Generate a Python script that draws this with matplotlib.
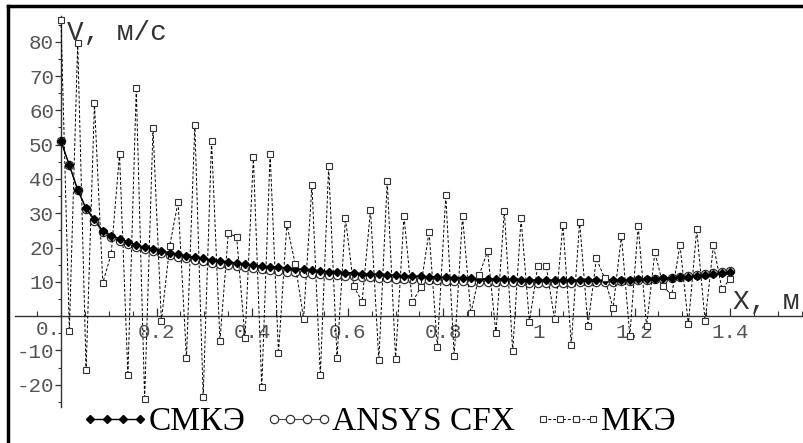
import numpy as np
import matplotlib
matplotlib.use("Agg")
import matplotlib.pyplot as plt
from matplotlib.lines import Line2D
from matplotlib.legend_handler import HandlerLine2D
from matplotlib.ticker import MultipleLocator, FixedLocator

# x grid: 81 nodes from 0 to 1.4 m
x = np.linspace(0, 1.4, 81)

smke = [51.0, 44.0, 36.8, 31.4, 28.2, 24.8, 23.5, 22.6, 21.6, 20.8,
        20.1, 19.5, 19.0, 18.5, 18.0, 17.6, 17.2, 16.8, 16.4, 16.1,
        15.8, 15.5, 15.2, 14.9, 14.6, 14.4, 14.2, 14.0, 13.8, 13.6,
        13.4, 13.2, 13.0, 12.9, 12.7, 12.6, 12.4, 12.3, 12.2, 12.1,
        11.9, 11.8, 11.7, 11.6, 11.5, 11.4, 11.3, 11.2, 11.1, 11.0,
        10.9, 10.9, 10.8, 10.7, 10.7, 10.6, 10.6, 10.5, 10.5, 10.5,
        10.4, 10.4, 10.4, 10.4, 10.4, 10.4, 10.5, 10.5, 10.6, 10.7,
        10.8, 10.9, 11.0, 11.1, 11.3, 11.5, 11.7, 11.9, 12.2, 12.5,
        12.8]

ansys = [51.0, 44.0, 36.8, 31.2, 27.8, 24.4, 23.0, 22.0, 21.0, 20.2,
         19.5, 18.9, 18.3, 17.8, 17.3, 16.8, 16.4, 16.0, 15.6, 15.3,
         15.0, 14.6, 14.3, 14.0, 13.7, 13.5, 13.2, 13.0, 12.8, 12.6,
         12.4, 12.2, 12.0, 11.9, 11.7, 11.6, 11.4, 11.3, 11.1, 11.0,
         10.9, 10.8, 10.7, 10.6, 10.5, 10.4, 10.3, 10.2, 10.1, 10.0,
         10.0, 9.9, 9.9, 9.8, 9.8, 9.8, 9.7, 9.7, 9.7, 9.7,
         9.7, 9.7, 9.8, 9.8, 9.9, 9.9, 10.0, 10.1, 10.2, 10.4,
         10.5, 10.7, 10.9, 11.1, 11.3, 11.6, 11.9, 12.2, 12.5, 12.8,
         13.1]

mke = [86.3, -4.3, 79.6, -15.7, 62.2, 9.7, 18.1, 47.2, -17.2, 66.4,
       -24.3, 54.7, -1.4, 20.5, 33.3, -12.3, 55.7, -23.5, 51.2, -7.2,
       24.1, 23.1, -6.5, 46.4, -20.7, 47.4, -10.7, 26.8, 15.2, -0.7,
       38.2, -17.2, 43.7, -12.2, 28.5, 8.7, 4.2, 31.0, -12.9, 39.5,
       -12.5, 29.2, 4.0, 8.4, 24.6, -8.9, 35.3, -11.7, 29.2, 0.8,
       12.0, 19.0, -5.0, 30.7, -10.2, 28.5, -1.7, 14.7, 14.7, -0.9,
       26.7, -8.3, 27.5, -2.8, 16.8, 11.0, 2.4, 23.4, -5.8, 26.3,
       -2.9, 18.6, 8.7, 6.1, 20.7, -2.4, 25.3, -1.5, 20.7, 8.0,
       10.7]

x_major = [0.2, 0.4, 0.6, 0.8, 1.0, 1.2, 1.4]
x_labels = ["0.2", "0.4", "0.6", "0.8", "1", "1.2", "1.4"]
y_major = [-20, -10, 10, 20, 30, 40, 50, 60, 70, 80]
y_labels = ["-20", "-10", "10", "20", "30", "40", "50", "60", "70", "80"]

W, H = 804, 443
fig = plt.figure(figsize=(W / 100, H / 100), dpi=100)
ax = fig.add_axes([15 / W, 1 - 407 / H, 1 - 15 / W, (407 - 16) / H])
ax.set_xlim(-0.0962, 1.5544)
ax.set_ylim(-26.5, 87.5)

mono = "Liberation Mono"
serif = "Liberation Serif"

l_ansys, = ax.plot(x, ansys, color="#444444", lw=0.8, marker="o", ms=6,
                   mfc="white", mec="#333333", mew=0.9, label="ANSYS CFX",
                   zorder=3)
l_smke, = ax.plot(x, smke, color="black", lw=1.0, marker="D", ms=3.6,
                  mfc="black", mec="black", label="СМКЭ", zorder=4)
l_mke, = ax.plot(x, mke, color="black", lw=0.7, ls=(0, (3, 2)), marker="s",
                 ms=4.2, mfc="white", mec="#333333", mew=0.8, label="МКЭ",
                 zorder=5, clip_on=False)

for s in ["top", "right"]:
    ax.spines[s].set_visible(False)
ax.spines["left"].set_position(("data", 0))
ax.spines["bottom"].set_position(("data", 0))
for s in ["left", "bottom"]:
    ax.spines[s].set_color("#333333")
    ax.spines[s].set_linewidth(1.0)

ax.xaxis.set_major_locator(FixedLocator(x_major))
ax.set_xticklabels(x_labels)
ax.xaxis.set_minor_locator(MultipleLocator(0.05))
ax.yaxis.set_major_locator(FixedLocator(y_major))
ax.set_yticklabels(y_labels)
ax.yaxis.set_minor_locator(MultipleLocator(5))

ax.tick_params(axis="x", which="major", direction="in", length=6, width=0.9,
               color="#333333", pad=5, labelsize=15, labelcolor="#555555")
ax.tick_params(axis="x", which="minor", direction="in", length=3.5, width=0.8,
               color="#333333")
ax.tick_params(axis="y", which="major", direction="out", length=4, width=0.9,
               color="#333333", pad=1, labelsize=15, labelcolor="#555555")
ax.tick_params(axis="y", which="minor", direction="out", length=2.5, width=0.8,
               color="#333333")
for lab in ax.get_xticklabels() + ax.get_yticklabels():
    lab.set_family(mono)

ax.text(0.0, -4.0, "0.", ha="right", va="center", fontsize=15,
        color="#555555", family=mono)
ax.text(0.012, 82.5, "V, м/с", ha="left", va="center", fontsize=20,
        color="#333333", family=mono)
ax.text(1.545, 4.0, "X, м", ha="right", va="center", fontsize=20,
        color="#333333", family=mono)

hmap = {h: HandlerLine2D(marker_pad=0, numpoints=4)
        for h in (l_smke, l_ansys, l_mke)}
leg = fig.legend([l_smke, l_ansys, l_mke], ["СМКЭ", "ANSYS CFX", "МКЭ"],
                 loc="center", bbox_to_anchor=(383 / W, 1 - 422 / H),
                 ncol=3, frameon=False, handlelength=1.5,
                 handletextpad=0.25, columnspacing=0.85, handler_map=hmap,
                 prop={"family": serif, "size": 24})

# image frame: top and left edges only
fig.add_artist(Line2D([8 / W, 1], [1 - 6 / H, 1 - 6 / H],
                      transform=fig.transFigure, color="black", lw=2.5))
fig.add_artist(Line2D([8 / W, 8 / W], [0, 1 - 6 / H],
                      transform=fig.transFigure, color="black", lw=2.5))

fig.savefig("out.png", dpi=100)
